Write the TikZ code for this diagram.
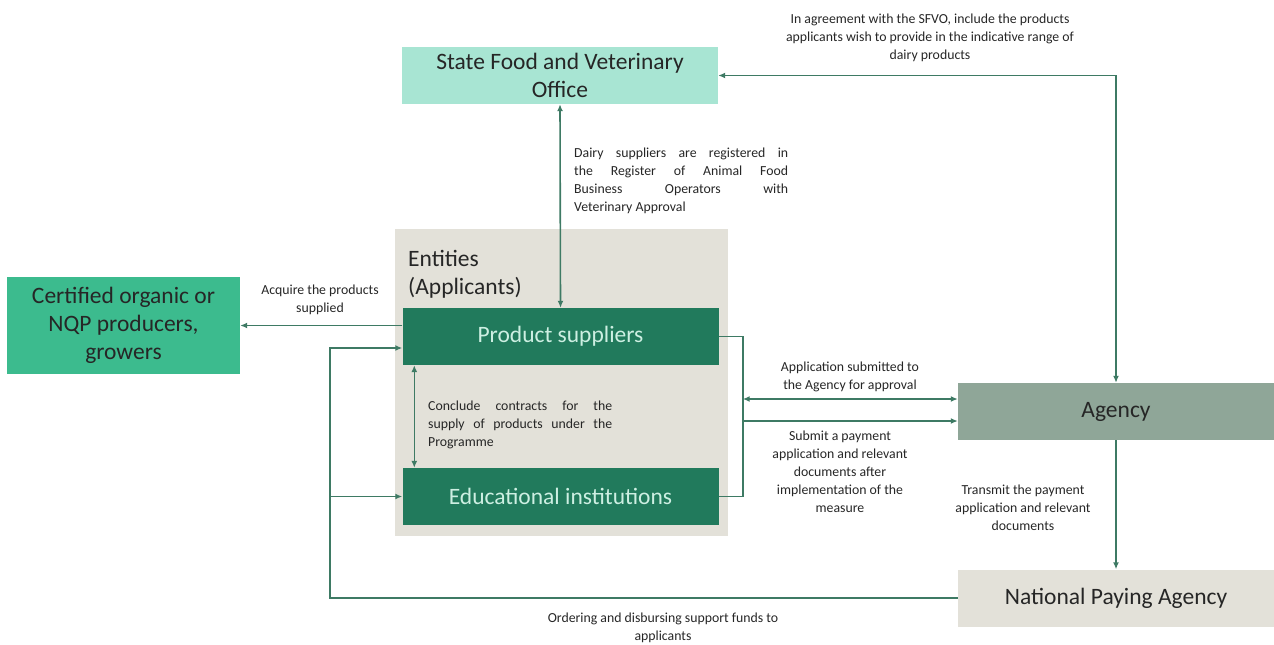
\documentclass[tikz,border=0pt]{standalone}
\usepackage{fontspec}
\setmainfont{Carlito}
\definecolor{mintLight}{HTML}{A8E5D3}
\definecolor{greenMid}{HTML}{3CBB8E}
\definecolor{greenDark}{HTML}{217A5C}
\definecolor{mintText}{HTML}{CDEFE2}
\definecolor{sageGrey}{HTML}{8FA698}
\definecolor{panelGrey}{HTML}{E3E1D9}
\definecolor{lineGreen}{HTML}{3E7A64}
\definecolor{textDark}{HTML}{262626}
\usepackage{tikz}
\usetikzlibrary{positioning, arrows.meta}

\begin{document}
\begin{tikzpicture}[x=1pt, y=-1pt,
    >={Latex[length=7pt,width=6pt]},
    box/.style={minimum width=316pt, minimum height=57pt, inner sep=0pt, align=center,
                text=textDark, font=\fontsize{23.5}{28}\selectfont},
    darkbox/.style={box, fill=greenDark, text=mintText},
    note/.style={text=textDark, inner sep=0pt, font=\fontsize{13.8}{18}\selectfont},
    link/.style={draw=lineGreen, line width=1.6pt}]
  \useasboundingbox (0,0) rectangle (1274,645);

  % panel behind the applicants
  \node[fill=panelGrey, minimum width=333pt, minimum height=307pt, inner sep=0pt] (entities) at (561.5,382.5) {};
  \node[anchor=north west, align=left, inner sep=0pt, text=textDark,
        font=\fontsize{23.5}{28}\selectfont] (entlabel) at (408,250) {Entities\\(Applicants)};

  % boxes
  \node[box, fill=mintLight] (sfvo) at (560,75.5) {State Food and Veterinary\\Office};
  \node[box, fill=greenMid, minimum width=233pt, minimum height=97pt] (grower) at (123.5,325.5) {Certified organic or\\NQP producers,\\growers};
  \node[darkbox] (suppl) at (560.5,336.5) {Product suppliers};
  \node[darkbox] (school) at (560.5,496.5) {Educational institutions};
  \node[box, fill=sageGrey] (agency) at (1116,411.5) {Agency};
  \node[box, fill=panelGrey] (npa) at (1116,598) {National Paying Agency};

  % connectors
  \draw[link, <->] (sfvo.south) -- (suppl.north);
  \draw[link, <->] (sfvo.east) -- (sfvo.east -| agency.north) -- (agency.north);
  \draw[link, ->] (suppl.west |- grower.east) -- (grower.east);
  \draw[link, <->] ([xshift=12pt]suppl.south west) -- ([xshift=12pt]school.north west);

  \coordinate (bkt) at ([xshift=24pt]suppl.east);
  \draw[link] (suppl.east) -- (bkt) |- (school.east);
  \coordinate (appl) at (bkt |- 0,399);
  \coordinate (paym) at (bkt |- 0,421);
  \draw[link, <->] (appl) -- (appl -| agency.west);
  \draw[link, ->] (paym) -- (paym -| agency.west);

  \draw[link, ->] (agency.south) -- (npa.north);

  \coordinate (fb) at (330,348);
  \draw[link, ->] (npa.west) -| (fb) -- (fb -| suppl.west);
  \draw[link, ->] (fb |- school.west) -- (school.west);

  % labels
  \node[note, align=center] (agreelbl) at (930,38) {In agreement with the SFVO, include the products\\applicants wish to provide in the indicative range of\\dairy products};
  \node[note, anchor=north west, text width=214pt, align=justify] (reglbl) at (574,148)
    {Dairy suppliers are registered in\linebreak the Register of Animal Food\linebreak Business Operators with\linebreak Veterinary Approval};
  \node[note, align=center] (acqlbl) at (320,300) {Acquire the products\\supplied};
  \node[note, anchor=north west, text width=184pt, align=justify] (contlbl) at (428,401)
    {Conclude contracts for the\linebreak supply of products under the\linebreak Programme};
  \node[note, align=center] (appllbl) at (850,377) {Application submitted to\\the Agency for approval};
  \node[note, align=center] (paylbl) at (840,472) {Submit a payment\\application and relevant\\documents after\\implementation of the\\measure};
  \node[note, align=center] (translbl) at (1023,508) {Transmit the payment\\application and relevant\\documents};
  \node[note, align=center] (fundlbl) at (663,628) {Ordering and disbursing support funds to\\applicants};
\end{tikzpicture}
\end{document}
